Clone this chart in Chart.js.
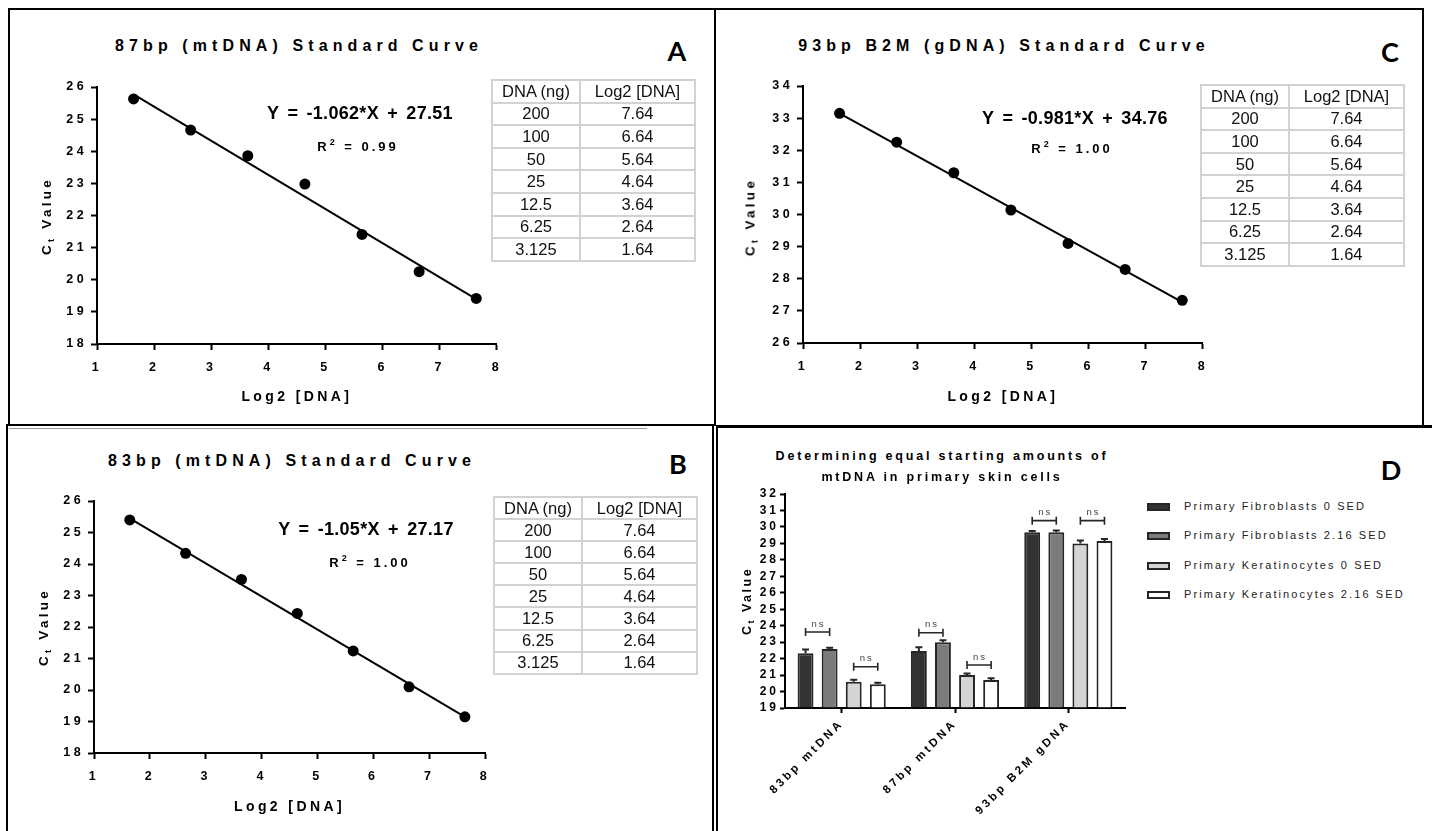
<!DOCTYPE html>
<html>
<head>
<meta charset="utf-8">
<script src="https://cdn.jsdelivr.net/npm/chart.js@4.4.1/dist/chart.umd.min.js"></script>
<style>
  html, body { margin: 0; padding: 0; background: #fff; }
  body { width: 1432px; height: 831px; position: relative; overflow: hidden;
         font-family: 'Liberation Sans', Arial, sans-serif; color: #000; }
  canvas { position: absolute; }
  .rule { position: absolute; background: #000; }
  .txt { position: absolute; transform: translate(-50%, -50%); white-space: nowrap; }
  .title { font-weight: bold; font-size: 16px; letter-spacing: 5.1px; }
  .letter { font-family: Lato, 'Open Sans', sans-serif; font-weight: 700; font-size: 27px; }
  .eq { font-weight: bold; font-size: 18px; letter-spacing: 0.3px; word-spacing: 3px; }
  .r2 { font-weight: bold; font-size: 13px; letter-spacing: 3px; }
  .r2 sup { font-size: 9px; vertical-align: 6px; line-height: 0; }
  .ylab { font-weight: bold; font-size: 13.5px; letter-spacing: 3.3px;
          transform: translate(-50%, -50%) rotate(-90deg); }
  .ylab sub { font-size: 9px; vertical-align: -3px; line-height: 0; }
  table.dna { position: absolute; border-collapse: collapse; table-layout: fixed;
              width: 203px; font-size: 16.5px; color: #111; }
  table.dna td { border: 2px solid #d2d2d2; text-align: center; padding: 0; }
  .dtitle { font-weight: bold; font-size: 12.5px; letter-spacing: 2.8px; }
  .leg { position: absolute; font-size: 11px; letter-spacing: 2.1px; color: #222; white-space: nowrap; }
  .legbox { position: absolute; width: 19px; height: 4px; border: 2px solid #262626; }
</style>
</head>
<body>

<!-- panel frames -->
<div class="rule" style="left:8px;top:8px;width:1416px;height:2px"></div>
<div class="rule" style="left:8px;top:8px;width:2px;height:418px"></div>
<div class="rule" style="left:714px;top:8px;width:2px;height:418px"></div>
<div class="rule" style="left:1422px;top:8px;width:2px;height:418px"></div>
<div class="rule" style="left:6px;top:424px;width:710px;height:2px"></div>
<div class="rule" style="left:9px;top:428px;width:638px;height:1px;background:#999"></div>
<div class="rule" style="left:716px;top:425px;width:716px;height:3px"></div>
<div class="rule" style="left:6px;top:424px;width:2px;height:407px"></div>
<div class="rule" style="left:712px;top:426px;width:2px;height:405px"></div>
<div class="rule" style="left:716px;top:426px;width:2px;height:405px"></div>

<canvas id="chartA" width="500" height="345" style="left:12px;top:70px"></canvas>
<canvas id="chartC" width="500" height="345" style="left:718px;top:70px"></canvas>
<canvas id="chartB" width="490" height="341" style="left:12px;top:484px"></canvas>
<canvas id="chartD" width="420" height="355" style="left:726px;top:470px"></canvas>

<!-- panel A -->
<div class="txt title" style="left:299px;top:46px">87bp (mtDNA) Standard Curve</div>
<div class="txt letter" style="left:677px;top:50px">A</div>
<div class="txt eq" style="left:360px;top:113px">Y = -1.062*X + 27.51</div>
<div class="txt r2" style="left:358px;top:146px">R<sup>2</sup> = 0.99</div>
<div class="txt ylab" style="left:46px;top:216px">C<sub>t</sub> Value</div>
<table class="dna" id="tableA" style="left:491px;top:79px"></table>

<!-- panel C -->
<div class="txt title" style="left:1004px;top:46px">93bp B2M (gDNA) Standard Curve</div>
<div class="txt letter" style="left:1390px;top:51px">C</div>
<div class="txt eq" style="left:1075px;top:118px">Y = -0.981*X + 34.76</div>
<div class="txt r2" style="left:1072px;top:148px">R<sup>2</sup> = 1.00</div>
<div class="txt ylab" style="left:750px;top:217px">C<sub>t</sub> Value</div>
<table class="dna" id="tableC" style="left:1200px;top:84px"></table>

<!-- panel B -->
<div class="txt title" style="left:292px;top:461px">83bp (mtDNA) Standard Curve</div>
<div class="txt letter" style="left:678px;top:463px">B</div>
<div class="txt eq" style="left:366px;top:529px">Y = -1.05*X + 27.17</div>
<div class="txt r2" style="left:370px;top:562px">R<sup>2</sup> = 1.00</div>
<div class="txt ylab" style="left:43px;top:627px">C<sub>t</sub> Value</div>
<table class="dna" id="tableB" style="left:493px;top:496px"></table>

<!-- panel D -->
<div class="txt dtitle" style="left:942px;top:456px">Determining equal starting amounts of</div>
<div class="txt dtitle" style="left:942px;top:477px">mtDNA in primary skin cells</div>
<div class="txt letter" style="left:1391px;top:469px">D</div>
<div class="txt ylab" style="left:747px;top:601px;font-size:12.5px;letter-spacing:2.5px">C<sub>t</sub> Value</div>
<div id="legendD"></div>

<script>
// standard curve inputs (table rows, same order for every array)
const dnaNg = ['200', '100', '50', '25', '12.5', '6.25', '3.125'];
const log2Dna = [7.64, 6.64, 5.64, 4.64, 3.64, 2.64, 1.64];

// Ct value at each Log2 [DNA] point
const ctA = [19.42, 20.25, 21.41, 22.98, 23.86, 24.66, 25.63];
const ctB = [19.15, 20.10, 21.24, 22.43, 23.51, 24.34, 25.40];
const ctC = [27.33, 28.29, 29.10, 30.14, 31.30, 32.25, 33.15];

// fitted line end points
const fitX = [1.64, 7.64];
const fitA = [25.77, 19.40];
const fitB = [25.45, 19.15];
const fitC = [33.15, 27.27];

const xRange = [1, 8];
const yRangeA = [18, 26];
const yRangeB = [18, 26];
const yRangeC = [26, 34];

// panel D
const categories = ['83bp mtDNA', '87bp mtDNA', '93bp B2M gDNA'];
const seriesNames = ['Primary Fibroblasts 0 SED', 'Primary Fibroblasts 2.16 SED',
  'Primary Keratinocytes 0 SED', 'Primary Keratinocytes 2.16 SED'];
const seriesColors = ['#333333', '#7b7b7b', '#d4d4d4', '#ffffff'];
const fib0 = [22.32, 22.46, 29.67];
const fib216 = [22.58, 22.99, 29.67];
const ker0 = [20.60, 21.00, 29.00];
const ker216 = [20.44, 20.70, 29.14];
const fib0Err = [0.24, 0.23, 0.08];
const fib216Err = [0.08, 0.12, 0.12];
const ker0Err = [0.12, 0.10, 0.18];
const ker216Err = [0.10, 0.10, 0.12];
// height of the "ns" brackets (fibroblast pair, keratinocyte pair)
const nsFib = [23.62, 23.57, 30.38];
const nsKer = [21.51, 21.61, 30.38];
const yRangeD = [19, 32];

const barValues = [fib0, fib216, ker0, ker216];
const barErrors = [fib0Err, fib216Err, ker0Err, ker216Err];

// canvas text in these figures is letter spaced
const textSpacing = {
  id: 'textSpacing',
  defaults: { px: 0 },
  beforeUpdate(chart, args, opts) { chart.ctx.letterSpacing = opts.px + 'px'; },
  beforeDraw(chart, args, opts) { chart.ctx.letterSpacing = opts.px + 'px'; },
};
Chart.register(textSpacing);

const FONT = "'Liberation Sans', Arial, sans-serif";

function tickGrid(len) {
  return { display: true, drawOnChartArea: false, drawTicks: true,
    tickLength: len, tickWidth: 2, tickColor: '#000' };
}

function buildTable(id, rowH) {
  const t = document.getElementById(id);
  let html = '<colgroup><col style="width:88px"><col style="width:115px"></colgroup>';
  html += `<tr style="height:${rowH}px"><td>DNA (ng)</td><td>Log2 [DNA]</td></tr>`;
  dnaNg.forEach((d, i) => {
    html += `<tr style="height:${rowH}px"><td>${d}</td><td>${log2Dna[i].toFixed(2)}</td></tr>`;
  });
  t.innerHTML = html;
}

function curveChart(id, ct, fit, yRange, box) {
  const ctx = document.getElementById(id).getContext('2d');
  return new Chart(ctx, {
    type: 'scatter',
    data: {
      datasets: [
        {
          data: log2Dna.map((x, i) => ({ x, y: ct[i] })),
          pointRadius: 5.5,
          pointBackgroundColor: '#000',
          pointBorderWidth: 0,
          showLine: false,
        },
        {
          data: fitX.map((x, i) => ({ x, y: fit[i] })),
          showLine: true,
          borderColor: '#000',
          borderWidth: 2,
          pointRadius: 0,
        },
      ],
    },
    options: {
      responsive: false,
      animation: false,
      devicePixelRatio: 1,
      layout: { padding: { left: 0, right: box.right, top: box.top, bottom: 0 } },
      plugins: { legend: { display: false }, tooltip: { enabled: false }, textSpacing: { px: 3.4 } },
      scales: {
        x: {
          type: 'linear', min: xRange[0], max: xRange[1],
          ticks: { stepSize: 1, color: '#000', padding: 10, maxRotation: 0, autoSkip: false,
            font: { family: FONT, size: 12.5, weight: 'bold' } },
          grid: tickGrid(6),
          border: { display: true, color: '#000', width: 2 },
          title: { display: true, text: 'Log2 [DNA]', color: '#000',
            font: { family: FONT, size: 14, weight: 'bold' }, padding: { top: 0, bottom: 9 } },
          afterFit: (s) => { s.height = box.xH; },
        },
        y: {
          type: 'linear', min: yRange[0], max: yRange[1],
          ticks: { stepSize: 1, color: '#000', padding: 4, autoSkip: false,
            font: { family: FONT, size: 12.5, weight: 'bold' } },
          grid: tickGrid(6),
          border: { display: true, color: '#000', width: 2 },
          afterFit: (s) => { s.width = box.yW; },
        },
      },
    },
  });
}

buildTable('tableA', 22.6);
buildTable('tableC', 22.6);
buildTable('tableB', 22.1);

curveChart('chartA', ctA, fitA, yRangeA, { yW: 85, right: 15, top: 17, xH: 71 });
curveChart('chartC', ctC, fitC, yRangeC, { yW: 85, right: 13, top: 16, xH: 72 });
curveChart('chartB', ctB, fitB, yRangeB, { yW: 82, right: 17, top: 17, xH: 72 });

// error bars and "ns" brackets for panel D
const barExtras = {
  id: 'barExtras',
  afterDatasetsDraw(chart) {
    const { ctx } = chart;
    const y = chart.scales.y;
    ctx.save();
    ctx.strokeStyle = '#262626';
    ctx.lineWidth = 2;
    chart.data.datasets.forEach((ds, i) => {
      chart.getDatasetMeta(i).data.forEach((bar, j) => {
        const top = y.getPixelForValue(ds.data[j] + barErrors[i][j]);
        ctx.beginPath();
        ctx.moveTo(bar.x, bar.y);
        ctx.lineTo(bar.x, top);
        ctx.moveTo(bar.x - 3.5, top);
        ctx.lineTo(bar.x + 3.5, top);
        ctx.stroke();
      });
    });
    const pairs = [[0, 1, nsFib], [2, 3, nsKer]];
    ctx.lineWidth = 1.6;
    ctx.fillStyle = '#444';
    ctx.font = '9.5px ' + FONT;
    ctx.letterSpacing = '2px';
    ctx.textAlign = 'center';
    ctx.textBaseline = 'middle';
    pairs.forEach(([a, b, level]) => {
      categories.forEach((c, j) => {
        const x1 = chart.getDatasetMeta(a).data[j].x;
        const x2 = chart.getDatasetMeta(b).data[j].x;
        const yy = y.getPixelForValue(level[j]);
        ctx.beginPath();
        ctx.moveTo(x1, yy); ctx.lineTo(x2, yy);
        ctx.moveTo(x1, yy - 4); ctx.lineTo(x1, yy + 4);
        ctx.moveTo(x2, yy - 4); ctx.lineTo(x2, yy + 4);
        ctx.stroke();
        ctx.fillText('ns', (x1 + x2) / 2 + 1, yy - 8);
      });
    });
    ctx.restore();
  },
};

new Chart(document.getElementById('chartD').getContext('2d'), {
  type: 'bar',
  data: {
    labels: categories,
    datasets: seriesNames.map((name, i) => ({
      label: name,
      data: barValues[i],
      base: yRangeD[0],
      backgroundColor: seriesColors[i],
      borderColor: '#262626',
      borderWidth: 2,
      categoryPercentage: 0.85,
      barPercentage: 0.66,
    })),
  },
  options: {
    responsive: false,
    animation: false,
    devicePixelRatio: 1,
    layout: { padding: { left: 0, right: 21, top: 24, bottom: 0 } },
    plugins: { legend: { display: false }, tooltip: { enabled: false }, textSpacing: { px: 3 } },
    scales: {
      x: {
        ticks: { color: '#000', padding: 4, minRotation: 45, maxRotation: 45, autoSkip: false,
          font: { family: FONT, size: 11.5, weight: 'bold' } },
        grid: Object.assign(tickGrid(5), { offset: false }),
        border: { display: true, color: '#000', width: 2 },
        afterFit: (s) => { s.height = 117; },
      },
      y: {
        min: yRangeD[0], max: yRangeD[1],
        ticks: { stepSize: 1, color: '#000', padding: 1, autoSkip: false,
          font: { family: FONT, size: 12, weight: 'bold' } },
        grid: tickGrid(5),
        border: { display: true, color: '#000', width: 2 },
        afterFit: (s) => { s.width = 59; },
      },
    },
  },
  plugins: [barExtras],
});

// legend for panel D
const legend = document.getElementById('legendD');
seriesNames.forEach((name, i) => {
  const cy = 507 + i * 29.3;
  const box = document.createElement('div');
  box.className = 'legbox';
  box.style.left = '1147px';
  box.style.top = (cy - 4) + 'px';
  box.style.background = seriesColors[i];
  legend.appendChild(box);
  const label = document.createElement('div');
  label.className = 'leg';
  label.style.left = '1184px';
  label.style.top = (cy - 7) + 'px';
  label.textContent = name;
  legend.appendChild(label);
});
</script>
</body>
</html>
